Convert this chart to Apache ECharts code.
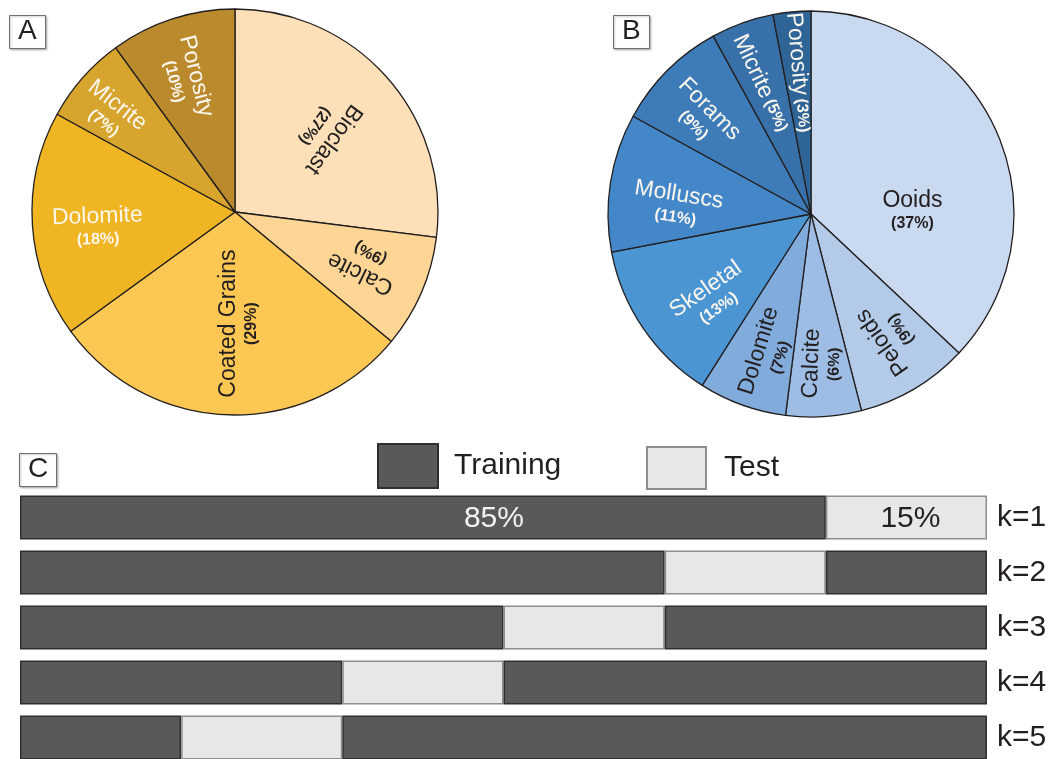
<!DOCTYPE html>
<html><head><meta charset="utf-8">
<script src="https://cdn.jsdelivr.net/npm/echarts@6/dist/echarts.min.js"></script>
<style>html,body{margin:0;padding:0;background:#fff}#c{width:1054px;height:759px}</style>
</head><body><div id="c"></div>
<script>
// ---- data ----
const pieANames = ['Bioclast', 'Calcite', 'Coated Grains', 'Dolomite', 'Micrite', 'Porosity'];
const pieAValues = [27, 9, 29, 18, 7, 10];
const pieBNames = ['Ooids', 'Peloids', 'Calcite', 'Dolomite', 'Skeletal', 'Molluscs', 'Forams', 'Micrite', 'Porosity'];
const pieBValues = [37, 9, 6, 7, 13, 11, 9, 5, 3];
const folds = ['k=1', 'k=2', 'k=3', 'k=4', 'k=5'];
const trainBefore = [5, 4, 3, 2, 1];
const testFold = [1, 1, 1, 1, 1];
const trainAfter = [null, 1, 2, 3, 4];
const trainText = ['85%', '', '', '', ''];
const testText = ['15%', '', '', '', ''];

// ---- styles / label layout ----
const FONT = "'Liberation Sans', Arial, Helvetica, sans-serif";
const pieAColors = ['#fde0b8', '#fdd594', '#fcc752', '#efb523', '#d7a42d', '#ba8a2c'];
const pieBColors = ['#c9d9ef', '#b3cbe9', '#9dbde5', '#81abdb', '#4b95d3', '#4387c8', '#3d7cb8', '#3871a9', '#2f6497'];
// [rotate(deg, ccw), angle from top cw (deg), radius fraction, light text, single line]
const pieALayout = [
  [-126, 49, 0.59, false, false],
  [154, 112, 0.69, false, false],
  [90, 178, 0.55, false, false],
  [2, 264, 0.68, true, false],
  [-38, 308.6, 0.78, true, false],
  [-76, 340, 0.70, true, false]
];
const pieBLayout = [
  [0, 88, 0.50, false, false],
  [125, 147, 0.72, false, false],
  [88, 176, 0.74, false, false],
  [73, 197, 0.72, false, false],
  [35, 230, 0.64, true, false],
  [-9, 274, 0.66, true, false],
  [-45, 312, 0.72, true, false],
  [-65, 339, 0.69, true, true],
  [-85, 355, 0.70, true, true]
];
const PIE_A = {cx: 235, cy: 212, r: 203};
const PIE_B = {cx: 811, cy: 214, r: 203};

function pieSeries(names, values, colors, layout, geo) {
  return {
    type: 'pie',
    center: [geo.cx, geo.cy],
    radius: [0, geo.r],
    startAngle: 90,
    clockwise: true,
    silent: true,
    avoidLabelOverlap: false,
    itemStyle: {borderColor: '#231f20', borderWidth: 1.3},
    labelLine: {show: false},
    emphasis: {disabled: true},
    label: {
      show: true,
      position: 'inside',
      fontFamily: FONT,
      formatter: p => '{n|' + p.name + '}' + (layout[p.dataIndex][4] ? ' ' : '\n') + '{p|(' + p.value + '%)}'
    },
    labelLayout: p => {
      const L = layout[p.dataIndex];
      const a = L[1] * Math.PI / 180;
      return {
        x: geo.cx + L[2] * geo.r * Math.sin(a),
        y: geo.cy - L[2] * geo.r * Math.cos(a),
        rotate: L[0]
      };
    },
    data: names.map((n, i) => {
      const L = layout[i];
      const col = L[3] ? '#fbf7ee' : '#231f20';
      return {
        name: n, value: values[i],
        itemStyle: {color: colors[i]},
        label: {
          rotate: L[0], color: col,
          rich: {
            n: {fontSize: 23, color: col, fontFamily: FONT, lineHeight: 26},
            p: {fontSize: 16, fontWeight: 'bold', color: col, fontFamily: FONT, lineHeight: 20}
          }
        }
      };
    })
  };
}

function panelTitle(t, left, top) {
  return {
    text: t, left: left, top: top,
    borderColor: '#6d6e71', borderWidth: 1,
    padding: [2, 9, 3, 9],
    shadowColor: 'rgba(0,0,0,0.25)', shadowBlur: 2, shadowOffsetX: 1, shadowOffsetY: 1,
    backgroundColor: '#fff',
    textStyle: {fontSize: 28, fontWeight: 'normal', color: '#231f20', fontFamily: FONT, lineHeight: 29}
  };
}

const chart = echarts.init(document.getElementById('c'));
chart.setOption({
  animation: false,
  backgroundColor: '#ffffff',
  title: [panelTitle('A', 9, 15), panelTitle('B', 613, 15), panelTitle('C', 19, 453)],
  legend: [
    {data: ['Training'], left: 377, top: 443, itemWidth: 60, itemHeight: 44, padding: 0,
     selectedMode: false, icon: 'rect',
     textStyle: {fontSize: 30, color: '#231f20', fontFamily: FONT, padding: [0, 0, 0, 11]}},
    {data: ['Test'], left: 646, top: 446, itemWidth: 59, itemHeight: 42, padding: 0,
     selectedMode: false, icon: 'rect',
     textStyle: {fontSize: 30, color: '#231f20', fontFamily: FONT, padding: [0, 0, 0, 13]}}
  ],
  grid: {left: 20, top: 490, width: 967, height: 275, containLabel: false, outerBoundsMode: 'none'},
  xAxis: {type: 'value', min: 0, max: 6, show: false},
  yAxis: {
    type: 'category', data: folds, inverse: true, position: 'right',
    axisLine: {show: false}, axisTick: {show: false}, splitLine: {show: false},
    axisLabel: {fontSize: 30, color: '#231f20', fontFamily: FONT, margin: 10}
  },
  series: [
    pieSeries(pieANames, pieAValues, pieAColors, pieALayout, PIE_A),
    pieSeries(pieBNames, pieBValues, pieBColors, pieBLayout, PIE_B),
    {type: 'bar', name: 'Training', stack: 'k', data: trainBefore, barWidth: 44, silent: true,
     itemStyle: {color: '#58595b', borderColor: '#2f2f30', borderWidth: 1.5},
     label: {show: true, position: 'inside', formatter: p => trainText[p.dataIndex],
             color: '#f2f2f2', fontSize: 30, fontFamily: FONT, offset: [71, 1]}},
    {type: 'bar', name: 'Test', stack: 'k', data: testFold, barWidth: 44, silent: true,
     itemStyle: {color: '#e6e7e8', borderColor: '#8d8e90', borderWidth: 1.5},
     label: {show: true, position: 'inside', formatter: p => testText[p.dataIndex],
             color: '#231f20', fontSize: 30, fontFamily: FONT, offset: [4, 1]}},
    {type: 'bar', name: 'Training', stack: 'k', data: trainAfter, barWidth: 44, silent: true,
     itemStyle: {color: '#58595b', borderColor: '#2f2f30', borderWidth: 1.5}}
  ]
});
</script>
</body></html>
